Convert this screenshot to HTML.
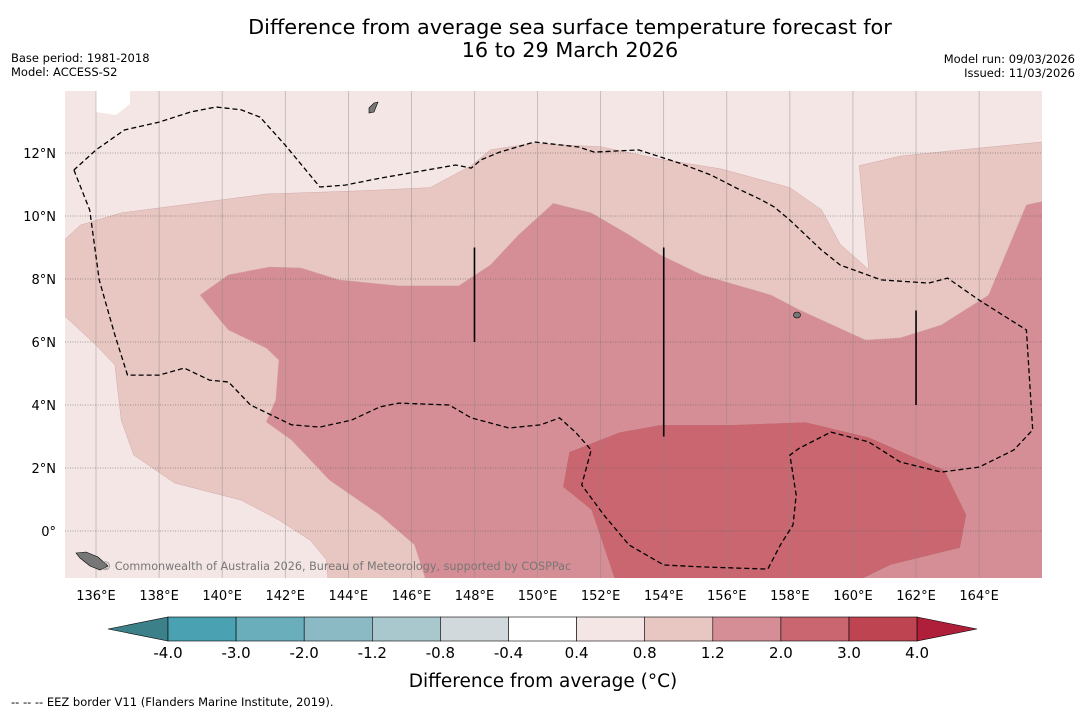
<!DOCTYPE html>
<html><head><meta charset="utf-8"><style>
body{margin:0;background:#fff;width:1085px;height:713px;overflow:hidden;font-family:"DejaVu Sans","Liberation Sans",sans-serif}
svg text{font-family:"DejaVu Sans","Liberation Sans",sans-serif}
</style></head><body>
<svg id="c" width="1085" height="713" xmlns="http://www.w3.org/2000/svg">
<text x="570" y="34" font-size="20.8" text-anchor="middle">Difference from average sea surface temperature forecast for</text>
<text x="570" y="57" font-size="20.8" text-anchor="middle">16 to 29 March 2026</text>
<text x="11" y="62" font-size="11.5">Base period: 1981-2018</text>
<text x="11" y="76" font-size="11.5">Model: ACCESS-S2</text>
<text x="1075" y="63" font-size="11.5" text-anchor="end">Model run: 09/03/2026</text>
<text x="1075" y="77" font-size="11.5" text-anchor="end">Issued: 11/03/2026</text>
<defs><clipPath id="mc"><rect x="65" y="91" width="977" height="487"/></clipPath></defs>
<g id="map" clip-path="url(#mc)"></g>
<g id="axes"></g>
<g id="cbar"></g>
<text x="543" y="687" font-size="18.5" text-anchor="middle">Difference from average (°C)</text>
<text x="11" y="706" font-size="11.5">--  --  -- EEZ border V11 (Flanders Marine Institute, 2019).</text>
</svg>
<script>
const lonTicks=[136,138,140,142,144,146,148,150,152,154,156,158,160,162,164];
const latTicks=[0,2,4,6,8,10,12];
const band08=[[135.0,9.24],[135.5,9.71],[136.8,10.1],[141.4,10.7],[144.4,10.8],[146.6,10.9],[147.9,11.6],[148.5,12.1],[149.8,12.3],[152.0,12.2],[153.9,11.8],[155.8,11.5],[158.0,10.9],[159.0,10.2],[159.6,9.1],[160.5,8.3],[160.2,11.6],[161.5,11.9],[163.4,12.1],[166.5,12.4],[166.5,-2],[143.4,-2],[143.3,-0.9],[142.8,-0.3],[141.8,0.35],[140.6,0.98],[138.5,1.52],[137.2,2.41],[136.8,3.52],[136.6,5.27],[136.0,5.9],[134.5,7.3]];
const band12=[[139.3,7.49],[140.2,8.13],[141.5,8.38],[142.5,8.35],[143.7,7.97],[145.6,7.78],[147.5,7.78],[148.5,8.44],[149.4,9.4],[150.5,10.4],[151.7,10.1],[152.9,9.4],[153.9,8.76],[155.2,8.13],[157.4,7.49],[158.3,7.02],[160.4,6.06],[161.5,6.13],[162.8,6.54],[164.3,7.49],[165.5,10.35],[166.5,10.57],[166.5,-2],[146.6,-2],[146.1,-0.44],[145.0,0.51],[143.4,1.62],[142.2,2.89],[141.4,3.46],[141.7,4.16],[141.8,5.43],[141.4,5.81],[140.2,6.38],[139.8,6.86]];
const band20=[[151.0,2.51],[152.6,3.14],[153.9,3.37],[156.1,3.37],[158.5,3.46],[160.5,2.98],[161.8,2.41],[162.9,1.94],[163.6,0.51],[163.4,-0.54],[161.2,-1.08],[159.3,-2],[152.6,-2],[151.7,0.67],[150.8,1.4]];
const eez=[[135.3,11.46],[135.8,10.19],[136.1,7.97],[136.6,6.22],[137.0,4.95],[138.0,4.95],[138.8,5.17],[139.6,4.79],[140.2,4.73],[140.9,4.0],[142.2,3.37],[143.1,3.3],[144.1,3.52],[145.0,3.94],[145.6,4.06],[147.2,4.0],[147.9,3.59],[149.1,3.27],[150.1,3.37],[150.7,3.59],[151.2,3.14],[151.7,2.57],[151.4,1.46],[152.1,0.51],[152.9,-0.44],[154.0,-1.08],[155.2,-1.14],[157.3,-1.21],[157.7,-0.44],[158.1,0.19],[158.2,1.14],[158.0,2.41],[158.3,2.63],[159.3,3.14],[160.5,2.83],[161.5,2.19],[162.8,1.87],[164.0,2.03],[165.1,2.57],[165.7,3.21],[165.5,6.38],[164.0,7.33],[163.0,8.03],[162.4,7.87],[160.9,7.97],[159.6,8.44],[159.0,8.92],[158.0,9.87],[157.5,10.29],[157.1,10.51],[156.3,10.89],[155.5,11.3],[154.5,11.68],[153.2,12.1],[151.8,12.03],[151.3,12.19],[149.9,12.35],[148.8,12.03],[148.2,11.78],[147.9,11.52],[147.4,11.62],[145.0,11.2],[143.9,10.98],[143.1,10.92],[142.0,12.25],[141.2,13.14],[140.6,13.37],[139.8,13.46],[139.0,13.3],[138.0,12.98],[136.9,12.73],[136.0,12.1],[135.3,11.46]];
const eezLines=[[148,9,6],[154,9,3],[162,7,4]];
const cbLevels=["-4.0","-3.0","-2.0","-1.2","-0.8","-0.4","0.4","0.8","1.2","2.0","3.0","4.0"];
const cbColors=["#49a1b2","#6aaebb","#8bbac5","#a9c8cd","#d1d9dc","#ffffff","#f4e6e5","#e8c6c2","#d68e96","#c96670","#be4452"];
const NS='http://www.w3.org/2000/svg';
const X=lon=>96+(lon-136)*31.54, Y=lat=>531-lat*31.5;
function mk(t,a,p){const e=document.createElementNS(NS,t);for(const k in a)e.setAttribute(k,a[k]);p.appendChild(e);return e;}
const map=document.getElementById('map'),axes=document.getElementById('axes'),cb=document.getElementById('cbar');
const pts=a=>a.map(p=>X(p[0]).toFixed(1)+','+Y(p[1]).toFixed(1)).join(' ');
let bg=mk('rect',{x:65,y:91,width:977,height:487,fill:'#f4e6e5'},map);


let wh=mk('polygon',{points:'96,91 130,91 130,104 116,115 96,112',fill:'#fff'},map);


[[band08,'#e8c6c2','anomaly-0.8-1.2'],[band12,'#d68e96','anomaly-1.2-2.0'],[band20,'#c96670','anomaly-2.0-3.0']].forEach(b=>{
 const e=mk('polygon',{points:pts(b[0]),fill:b[1],stroke:'#c9a0a0','stroke-width':0.4},map);
 
 
});
lonTicks.forEach(l=>{
 const e=mk('line',{x1:X(l),x2:X(l),y1:91,y2:578,stroke:'#888','stroke-width':0.6,'stroke-opacity':0.7},map);
 
 
 const t=mk('text',{x:X(l),y:600,'font-size':13,'text-anchor':'middle'},axes);t.textContent=l+'°E';
 
 
});
latTicks.forEach(l=>{
 const e=mk('line',{x1:65,x2:1042,y1:Y(l),y2:Y(l),stroke:'#555','stroke-width':0.6,'stroke-dasharray':'1,1.5'},map);
 
 
 const t=mk('text',{x:56,y:Y(l)+5,'font-size':13,'text-anchor':'end'},axes);t.textContent=l===0?'0°':l+'°N';
 
 
});
let ez=mk('polyline',{points:pts(eez),fill:'none',stroke:'#000','stroke-width':1.3,'stroke-dasharray':'5,3'},map);


eezLines.forEach(v=>{
 const e=mk('line',{x1:X(v[0]),x2:X(v[0]),y1:Y(v[1]),y2:Y(v[2]),stroke:'#000','stroke-width':1.6},map);
 
 
});
let is1=mk('polygon',{points:'76,553 86,552 98,557 108,566 100,570 90,566 80,558',fill:'#777',stroke:'#000','stroke-width':0.6},map);


let is2=mk('polygon',{points:'369,108 374,103 378,102 374,112 369,113',fill:'#777',stroke:'#000','stroke-width':0.6},map);


let is3=mk('ellipse',{cx:797,cy:315,rx:3.5,ry:3,fill:'#777',stroke:'#000','stroke-width':0.6},map);


let cr=mk('text',{x:100,y:570,'font-size':11.2,fill:'#777'},map);cr.textContent='© Commonwealth of Australia 2026, Bureau of Meteorology, supported by COSPPac';


const cx0=168,cw=68.1,cy=617,ch=24;
let la=mk('polygon',{points:`108,${cy+ch/2} ${cx0},${cy} ${cx0},${cy+ch}`,fill:'#3c808a',stroke:'#000','stroke-width':0.6},cb);


cbColors.forEach((c,i)=>{
 const e=mk('rect',{x:cx0+i*cw,y:cy,width:cw,height:ch,fill:c,stroke:'#000','stroke-width':0.6},cb);
 
 
});
const ce=cx0+cbColors.length*cw;
let ra=mk('polygon',{points:`${ce},${cy} 977,${cy+ch/2} ${ce},${cy+ch}`,fill:'#b01f3a',stroke:'#000','stroke-width':0.6},cb);


cbLevels.forEach((s,i)=>{
 const t=mk('text',{x:cx0+i*cw,y:658,'font-size':15,'text-anchor':'middle'},cb);t.textContent=s;
 
 
});
</script>
</body></html>
